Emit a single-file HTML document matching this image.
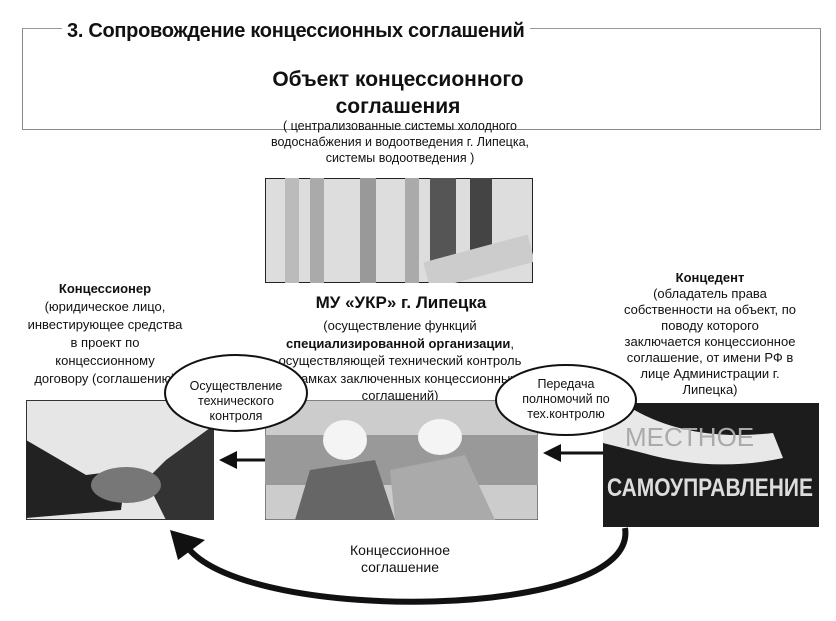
<!DOCTYPE html>
<html><head><meta charset="utf-8"><style>
body{margin:0;width:836px;height:621px;background:#fff;position:relative;overflow:hidden;font-family:"Liberation Sans","DejaVu Sans",sans-serif;color:#111}
.a{position:absolute}
.c{text-align:center;white-space:nowrap}
</style></head><body>
<div class="a" style="left:22px;top:28px;width:797px;height:100px;border:1px solid #888;border-top-color:#999"></div>
<div class="a" style="left:62px;top:20px;background:#fff;padding:0 5px;font-weight:bold;font-size:20px;letter-spacing:-0.3px">3. Сопровождение концессионных соглашений</div>
<div class="a c" style="left:230px;top:66px;width:336px;font-size:21px;font-weight:bold;line-height:27px">Объект концессионного<br>соглашения</div>
<div class="a c" style="left:230px;top:118px;width:340px;font-size:12.5px;line-height:16px">( централизованные системы холодного<br>водоснабжения и водоотведения г. Липецка,<br>системы водоотведения )</div>

<svg class="a" style="left:265px;top:178px" width="268" height="105">
<rect width="268" height="105" fill="#ddd" stroke="#222" stroke-width="2"/>
<rect x="20" y="0" width="14" height="105" fill="#bbb"/><rect x="45" y="0" width="14" height="105" fill="#aaa"/>
<rect x="95" y="0" width="16" height="105" fill="#999"/><rect x="140" y="0" width="14" height="105" fill="#aaa"/>
<rect x="165" y="0" width="26" height="105" fill="#555"/><rect x="205" y="0" width="22" height="80" fill="#444"/>
<rect x="160" y="70" width="108" height="28" fill="#ccc" transform="rotate(-15 214 84)"/>
</svg>

<div class="a c" style="left:5px;top:280px;width:200px;font-size:13px;line-height:18px"><b>Концессионер</b><br>(юридическое лицо,<br>инвестирующее средства<br>в проект по<br>концессионному<br>договору (соглашению)</div>
<div class="a c" style="left:265px;top:293px;width:272px;font-size:17px;font-weight:bold">МУ «УКР» г. Липецка</div>
<div class="a c" style="left:255px;top:317px;width:290px;font-size:13px;line-height:17.5px">(осуществление функций<br><b>специализированной организации</b>,<br>осуществляющей технический контроль<br>в рамках заключенных концессионных<br>соглашений)</div>
<div class="a c" style="left:610px;top:270px;width:200px;font-size:13px;line-height:16px"><b>Концедент</b><br>(обладатель права<br>собственности на объект, по<br>поводу которого<br>заключается концессионное<br>соглашение, от имени РФ в<br>лице Администрации г.<br>Липецка)</div>

<svg class="a" style="left:26px;top:400px" width="188" height="120">
<rect width="188" height="120" fill="#e6e6e6" stroke="#333" stroke-width="2"/>
<path d="M0 40 L60 75 L100 70 L95 110 L0 118Z" fill="#222"/>
<path d="M188 25 L140 60 L120 80 L140 120 L188 120Z" fill="#333"/>
<ellipse cx="100" cy="85" rx="35" ry="18" fill="#777"/>
</svg>
<svg class="a" style="left:265px;top:400px" width="273" height="120">
<rect width="273" height="120" fill="#ccc" stroke="#333" stroke-width="1"/>
<rect x="0" y="35" width="273" height="50" fill="#999"/>
<ellipse cx="80" cy="40" rx="22" ry="20" fill="#f4f4f4"/><ellipse cx="175" cy="37" rx="22" ry="18" fill="#f4f4f4"/>
<path d="M30 120 L45 70 L110 60 L130 120Z" fill="#666"/><path d="M130 120 L125 70 L200 55 L230 120Z" fill="#aaa"/>
</svg>
<svg class="a" style="left:603px;top:403px" width="216" height="124">
<rect width="216" height="124" fill="#1c1c1c"/>
<path d="M0 0 L20 0 Q80 40 170 30 L180 55 Q110 70 40 50 L0 40Z" fill="#e8e8e8"/>
<text x="22" y="43" font-size="26" fill="#aaa" font-family="Liberation Sans, sans-serif">МЕСТНОЕ</text>
<text x="4" y="93" font-size="25" font-weight="bold" fill="#ddd" textLength="206" lengthAdjust="spacingAndGlyphs" font-family="Liberation Sans, sans-serif">САМОУПРАВЛЕНИЕ</text>
</svg>

<svg class="a" style="left:0;top:0" width="836" height="621">
<defs><marker id="m" markerWidth="6" markerHeight="6" refX="5" refY="3" orient="auto"><path d="M0,0 L6,3 L0,6Z" fill="#111"/></marker></defs>
<line x1="265" y1="460" x2="222" y2="460" stroke="#111" stroke-width="3" marker-end="url(#m)"/>
<line x1="603" y1="453" x2="546" y2="453" stroke="#111" stroke-width="3" marker-end="url(#m)"/>
<path d="M625 528 C640 620 250 625 188 548" fill="none" stroke="#111" stroke-width="6"/>
<path d="M170 530 L205 540 L178 560Z" fill="#111"/>
<ellipse cx="236" cy="393" rx="71" ry="38" fill="#fff" stroke="#111" stroke-width="2"/>
<ellipse cx="566" cy="400" rx="70" ry="35" fill="#fff" stroke="#111" stroke-width="2"/>
</svg>
<div class="a c" style="left:176px;top:379px;width:120px;font-size:12.5px;line-height:15px">Осуществление<br>технического<br>контроля</div>
<div class="a c" style="left:506px;top:377px;width:120px;font-size:12.5px;line-height:15px">Передача<br>полномочий по<br>тех.контролю</div>
<div class="a c" style="left:300px;top:542px;width:200px;font-size:14px;line-height:17px">Концессионное<br>соглашение</div>
</body></html>
